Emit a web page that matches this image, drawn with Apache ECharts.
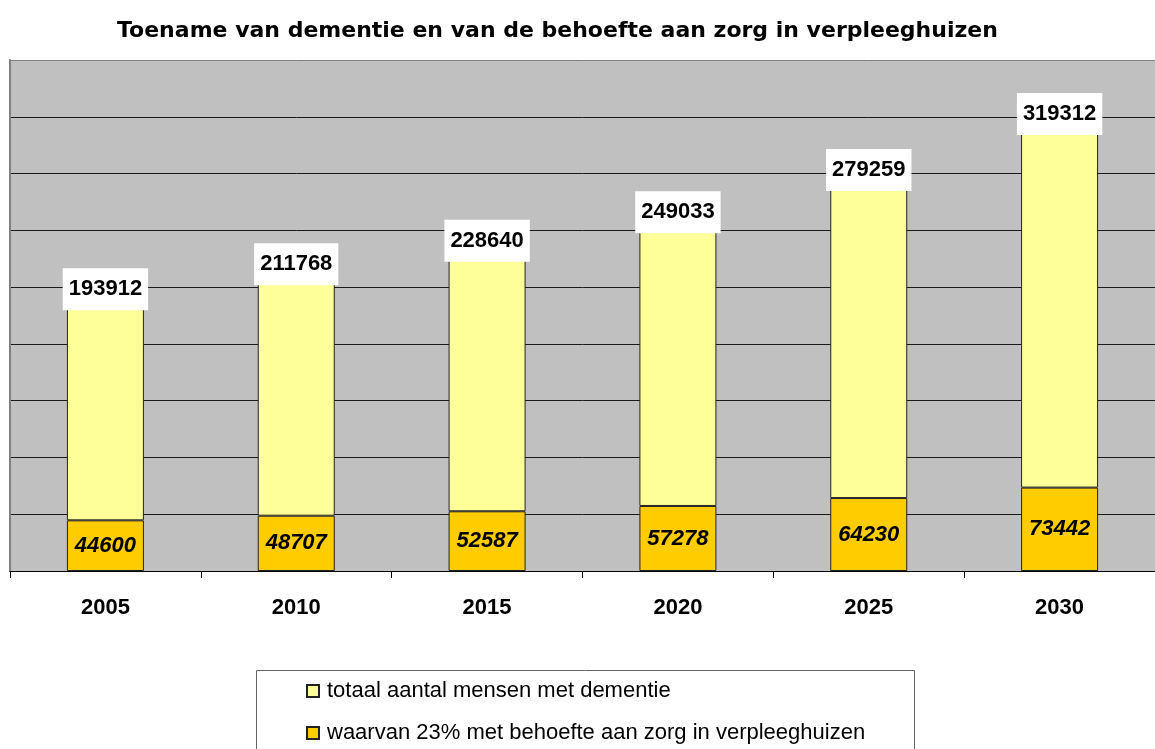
<!DOCTYPE html>
<html>
<head>
<meta charset="utf-8">
<title>Toename van dementie</title>
<script src="https://cdn.jsdelivr.net/npm/echarts@6/dist/echarts.min.js"></script>
<style>
    html, body { margin: 0; padding: 0; background: #ffffff; }
    #chart { width: 1155px; height: 749px; }
</style>
</head>
<body>
<div id="chart"></div>
<script>
//-----------------------------------------data-----------------------------------------
var years = ['2005', '2010', '2015', '2020', '2025', '2030'];
var totaalDementie = [193912, 211768, 228640, 249033, 279259, 319312];
var verpleeghuisZorg = [44600, 48707, 52587, 57278, 64230, 73442];
var seriesNames = ['totaal aantal mensen met dementie', 'waarvan 23% met behoefte aan zorg in verpleeghuizen'];
var yMax = 450000;
var yStep = 50000;

//-----------------------------------------chart-----------------------------------------
var chart = echarts.init(document.getElementById('chart'));

//gridlines: zwart, behalve de bovenste rand die grijs is
var gridColors = [];
for (var i = 0; i <= yMax / yStep; i++) {
    gridColors.push(i === yMax / yStep ? '#808080' : '#1a1a1a');
}

//legenda: een item per regel (de kader loopt onder de rand door)
function legendRow(name, top) {
    return {
        data: [name],
        orient: 'vertical',
        left: 306,
        top: top,
        padding: 0,
        itemWidth: 12,
        itemHeight: 12,
        icon: 'rect',
        textStyle: {
            fontFamily: 'Liberation Sans',
            fontSize: 22,
            color: '#000000',
            padding: [0, 0, 0, 3]
        }
    };
}

var option = {
    backgroundColor: '#ffffff',
    animation: false,
    title: {
        text: 'Toename van dementie en van de behoefte aan zorg in verpleeghuizen',
        left: 112,
        top: 15,
        textStyle: {
            fontFamily: 'DejaVu Sans',
            fontWeight: 'bold',
            fontSize: 22,
            color: '#000000'
        }
    },
    graphic: [{
        type: 'rect',
        left: 256,
        top: 670,
        z: 0,
        shape: { width: 658, height: 100 },
        style: { fill: '#ffffff', stroke: '#666666', lineWidth: 1 }
    }],
    legend: [
        legendRow(seriesNames[0], 680),
        legendRow(seriesNames[1], 722)
    ],
    grid: {
        left: 10,
        top: 60,
        width: 1152,
        bottom: 178,
        show: true,
        backgroundColor: '#c0c0c0',
        borderWidth: 0
    },
    xAxis: {
        type: 'category',
        data: years,
        boundaryGap: true,
        axisLine: { lineStyle: { color: '#000000', width: 1 } },
        axisTick: { show: true, interval: 0, length: 7, lineStyle: { color: '#000000' } },
        axisLabel: {
            margin: 26,
            fontFamily: 'Liberation Sans',
            fontWeight: 'bold',
            fontSize: 22,
            color: '#000000'
        }
    },
    yAxis: {
        type: 'value',
        min: 0,
        max: yMax,
        interval: yStep,
        axisLine: { show: true, lineStyle: { color: '#808080', width: 2 } },
        axisTick: { show: false },
        axisLabel: { show: false },
        splitLine: { show: true, lineStyle: { color: gridColors, width: 1 } }
    },
    series: [{
        name: seriesNames[1],
        type: 'bar',
        stack: 'totaal',
        barWidth: 77,
        data: verpleeghuisZorg,
        itemStyle: { color: '#ffcc00', borderColor: '#222222', borderWidth: 1 },
        label: {
            show: true,
            position: 'inside',
            fontFamily: 'Liberation Sans',
            fontWeight: 'bold',
            fontStyle: 'italic',
            fontSize: 22,
            color: '#000000'
        }
    }, {
        name: seriesNames[0],
        type: 'bar',
        stack: 'totaal',
        barWidth: 77,
        data: totaalDementie,
        itemStyle: { color: '#ffff99', borderColor: '#222222', borderWidth: 1 },
        label: {
            show: true,
            position: 'top',
            offset: [0, 15],
            backgroundColor: '#ffffff',
            padding: [10, 6, 10, 6],
            fontFamily: 'Liberation Sans',
            fontWeight: 'bold',
            fontSize: 22,
            color: '#000000'
        }
    }]
};
chart.setOption(option);
</script>
</body>
</html>
